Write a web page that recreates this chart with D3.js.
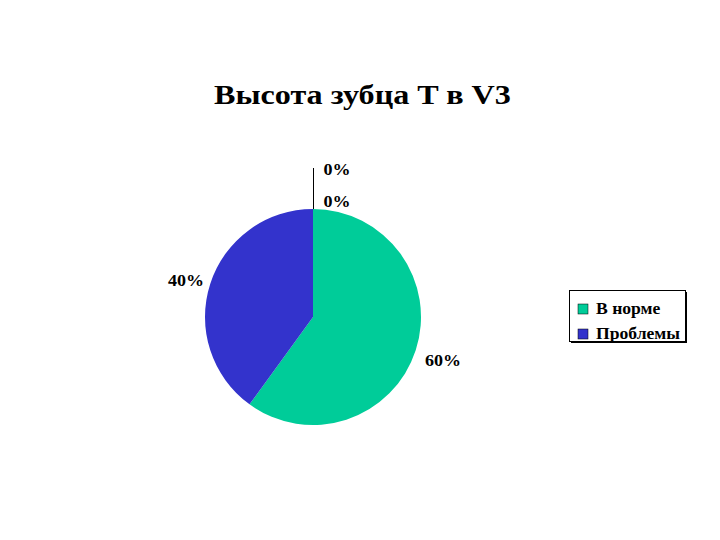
<!DOCTYPE html>
<html>
<head>
<meta charset="utf-8">
<script src="https://cdn.jsdelivr.net/npm/d3@7"></script>
<style>
  body { margin: 0; background: #fff; }
  text { font-family: "Liberation Serif", "Times New Roman", serif; font-weight: bold; fill: #000; }
</style>
</head>
<body>
<svg id="chart"></svg>
<script>
const width = 720, height = 540;

// Chart data
const title = "Высота зубца T в V3";
const categories = ["В норме", "Проблемы", "", ""];
const values = [60, 40, 0, 0];
const colors = ["#00CC99", "#3333CC", "#ffffff", "#ffffff"];
const legendCategories = ["В норме", "Проблемы"];

const cx = 313, cy = 317, radius = 108;

const svg = d3.select("#chart")
    .attr("width", width)
    .attr("height", height);

// the original text is a bit wider than Times, stretch it horizontally
function stretch(sel, k) {
    sel.each(function () {
        const w = this.getComputedTextLength();
        d3.select(this)
            .attr("textLength", w * k)
            .attr("lengthAdjust", "spacingAndGlyphs");
    });
}

// Title
svg.append("text")
    .attr("x", 214)
    .attr("y", 104)
    .style("font-size", "27px")
    .text(title)
    .call(stretch, 1.19);

const total = d3.sum(values);
const pie = d3.pie().sort(null).value(d => d)(values);
const arc = d3.arc().innerRadius(0).outerRadius(radius);

const g = svg.append("g").attr("transform", `translate(${cx},${cy})`);

g.selectAll("path")
    .data(pie.filter(d => d.value > 0))
    .enter()
    .append("path")
    .attr("d", arc)
    .attr("fill", d => colors[d.index]);

// Percent labels
const fmt = v => `${Math.round(v / total * 100)}%`;
const labelPos = [
    { dx: 130, dy: 49 },   // 60%
    { dx: -127, dy: -31 }, // 40%
    { dx: 24, dy: -142 },  // 0%
    { dx: 24, dy: -110 }   // 0%
];

// Leader line for zero slices
g.append("line")
    .attr("x1", 0.5).attr("x2", 0.5)
    .attr("y1", -radius).attr("y2", -radius - 41)
    .attr("stroke", "#000")
    .attr("stroke-width", 1);

g.selectAll(".pct")
    .data(pie)
    .enter()
    .append("text")
    .attr("class", "pct")
    .attr("x", d => labelPos[d.index].dx)
    .attr("y", d => labelPos[d.index].dy)
    .attr("text-anchor", "middle")
    .style("font-size", "17px")
    .text(d => fmt(d.value))
    .call(stretch, 1.06);

// Legend
const legend = svg.append("g").attr("transform", "translate(569,290)");
legend.append("rect")
    .attr("x", 2).attr("y", 2)
    .attr("width", 116).attr("height", 51)
    .attr("fill", "#000");
legend.append("rect")
    .attr("x", 0.5).attr("y", 0.5)
    .attr("width", 116).attr("height", 51)
    .attr("fill", "#fff")
    .attr("stroke", "#000")
    .attr("stroke-width", 1);

const items = legend.selectAll(".item")
    .data(legendCategories)
    .enter()
    .append("g")
    .attr("transform", (d, i) => `translate(9,${14 + i * 25})`);

items.append("rect")
    .attr("width", 10).attr("height", 10)
    .attr("fill", (d, i) => colors[i])
    .attr("stroke", "#000")
    .attr("stroke-width", 0.5);

items.append("text")
    .attr("x", 18)
    .attr("y", 10)
    .style("font-size", "16px")
    .text(d => d)
    .call(stretch, 1.1);
</script>
</body>
</html>
